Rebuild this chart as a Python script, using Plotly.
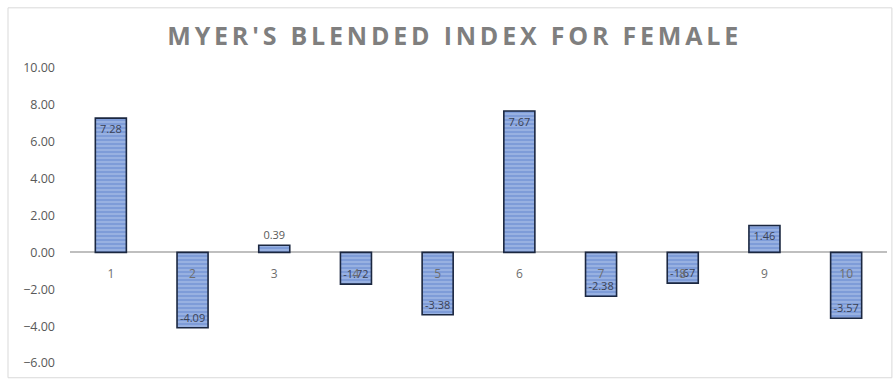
import plotly.graph_objects as go

categories = ["1", "2", "3", "4", "5", "6", "7", "8", "9", "10"]
values = [7.28, -4.09, 0.39, -1.72, -3.38, 7.67, -2.38, -1.67, 1.46, -3.57]
y_ticks = [10, 8, 6, 4, 2, 0, -2, -4, -6]
y_min, y_max = -6, 10

text_pos = ["outside" if abs(v) < 1 else "inside" for v in values]

fig = go.Figure()
fig.add_trace(go.Bar(
    x=categories, y=values,
    width=0.38,
    marker=dict(
        color="#7E9CD8",
        line=dict(color="#1B2740", width=1.6),
        pattern=dict(shape="-", fgcolor="#C8D6F0", size=4, solidity=0.35),
    ),
    texttemplate="%{y:.2f}",
    textposition=text_pos,
    insidetextanchor="end",
    textangle=0,
    constraintext="none",
    cliponaxis=False,
    textfont=dict(family="Open Sans", size=11, color="#3A4255"),
    outsidetextfont=dict(family="Open Sans", size=11, color="#595959"),
))

fig.update_layout(
    width=895, height=379,
    margin=dict(l=70, r=8, t=68, b=12),
    paper_bgcolor="white", plot_bgcolor="white",
    showlegend=False,
    bargap=0.62,
    title=dict(
        text="<span style=\"letter-spacing:3.8px\"><b>MYER'S BLENDED INDEX FOR FEMALE</b></span>",
        x=0.508, xanchor="center", y=0.905, yanchor="middle",
        font=dict(family="Open Sans", size=25, color="#7F7F7F"),
    ),
    xaxis=dict(
        type="category",
        anchor="free", position=(0 - y_min) / (y_max - y_min),
        showline=False, showgrid=False, ticks="", zeroline=False,
        ticklabelstandoff=13,
        tickfont=dict(family="Open Sans", size=12, color="#6E6E6E"),
    ),
    yaxis=dict(
        range=[y_min, y_max],
        tickvals=y_ticks, tickformat=".2f",
        showgrid=False, zeroline=True, zerolinecolor="#BFBFBF", zerolinewidth=2,
        showline=False, ticks="",
        ticklabelstandoff=14,
        tickfont=dict(family="Open Sans", size=12.5, color="#595959"),
    ),
    shapes=[dict(
        type="rect", xref="paper", yref="paper",
        x0=-62 / 817, x1=1.006, y0=-0.05, y1=1 + 61 / 299,
        line=dict(color="#D9D9D9", width=1), fillcolor="rgba(0,0,0,0)", layer="below",
    )],
)

fig.write_html("out.html")
